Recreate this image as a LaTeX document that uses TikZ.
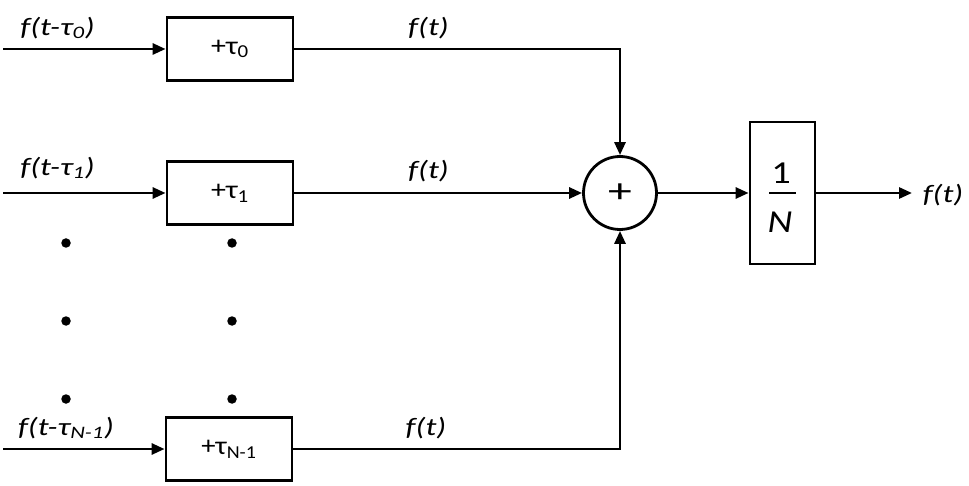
\documentclass[tikz,border=0pt]{standalone}
\usepackage{fontspec}
\usepackage{graphicx}
\setmainfont{Carlito}
\usetikzlibrary{arrows.meta}
\newcommand\widen[2]{\scalebox{#1}[1]{#2}}
\begin{document}
\begin{tikzpicture}[x=1pt,y=-1pt,
  line width=2.8pt,
  arr/.style={-{Triangle[length=13pt,width=11pt]}},
  delaybox/.style={draw,minimum width=126pt,minimum height=63pt,inner sep=0pt,font=\fontsize{26}{28}\selectfont},
  lbl/.style={font=\fontsize{25}{28}\selectfont\itshape,inner sep=0pt},
  fracpart/.style={font=\fontsize{32}{34}\selectfont,inner sep=0pt},
  dot/.style={circle,fill=black,minimum size=9.5pt,inner sep=0pt}]
\useasboundingbox (0,0) rectangle (969,486);
% delay boxes
\node[delaybox] (b0) at (230,49) {\widen{1.15}{+τ\textsubscript{0}}};
\node[delaybox] (b1) at (230,193) {\widen{1.15}{+τ\textsubscript{1}}};
\node[delaybox] (b2) at (229,449) {\widen{1.1}{+τ\textsubscript{N-1}}};
% inputs
\coordinate (i0) at (3,49);
\coordinate (i1) at (3,193);
\coordinate (i2) at (3,449);
\draw[arr] (i0) -- (b0);
\draw[arr] (i1) -- (b1);
\draw[arr] (i2) -- (b2);
\node[lbl] (l0) at (57.5,28) {\widen{1.3}{f(t-τ\textsubscript{0})}};
\node[lbl] (l1) at (57.5,168) {\widen{1.3}{f(t-τ\textsubscript{1})}};
\node[lbl] (l2) at (66,428) {\widen{1.3}{f(t-τ\textsubscript{N-1})}};
% sum
\node[draw,circle,minimum size=73pt,inner sep=0pt,font=\fontsize{34}{36}\selectfont] (s) at (620,193) {\widen{1.4}{+}};
\draw[arr] (b0.east) -| (s.north);
\draw[arr] (b1.east) -- (s.west);
\draw[arr] (b2.east) -| (s.south);
\node[lbl] (f0) at (428.5,28) {\widen{1.3}{f(t)}};
\node[lbl] (f1) at (428.5,171) {\widen{1.3}{f(t)}};
\node[lbl] (f2) at (426,428) {\widen{1.3}{f(t)}};
% normalisation
\node[draw,minimum width=65pt,minimum height=142pt,inner sep=0pt] (n) at (782.5,193) {};
\node[fracpart] (n1) at (781,173) {\widen{1.2}{1}};
\node[fracpart] (nN) at (780,222) {\widen{1.2}{\itshape N}};
\draw ([xshift=-13.5pt]n.center) -- ([xshift=13.5pt]n.center);
\draw[arr] (s) -- (n);
\coordinate (o) at (912,193);
\draw[arr] (n) -- (o);
\node[lbl] (fo) at (943,195) {\widen{1.3}{f(t)}};
% dots
\foreach \x/\c in {66/a,232/b}{
  \node[dot] (d1\c) at (\x,243) {};
  \node[dot] (d2\c) at (\x,321) {};
  \node[dot] (d3\c) at (\x,399) {};
}
\end{tikzpicture}
\end{document}
